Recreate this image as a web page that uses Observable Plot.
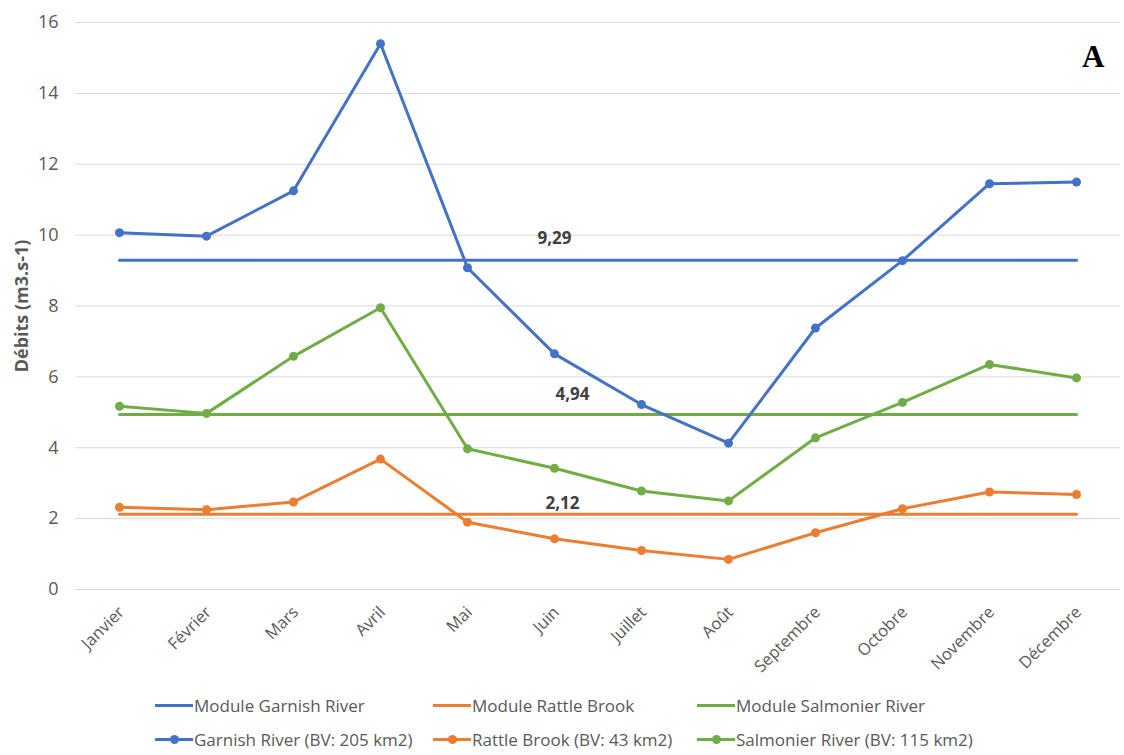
<!DOCTYPE html>
<html>
<head>
<meta charset="utf-8">
<script src="https://cdn.jsdelivr.net/npm/d3@7"></script>
<script src="https://cdn.jsdelivr.net/npm/@observablehq/plot@0.6"></script>
<style>
  html, body { margin: 0; padding: 0; background: #fff; }
  #wrap { position: relative; width: 1124px; height: 755px; font-family: "Open Sans", sans-serif; }
  #legend { position: absolute; left: 0; top: 690px; width: 1124px; height: 65px; font-size: 17px; color: #595959; }
  .item { position: absolute; display: flex; align-items: center; white-space: nowrap; }
  .sw { position: relative; width: 38px; height: 3px; margin-right: 1px; }
  .sw .dot { position: absolute; left: 15px; top: -3px; width: 9px; height: 9px; border-radius: 50%; }
</style>
</head>
<body>
<div id="wrap">
  <div id="chart"></div>
  <div id="legend"></div>
</div>
<script>
const months = ["Janvier","Février","Mars","Avril","Mai","Juin","Juillet","Août","Septembre","Octobre","Novembre","Décembre"];
const garnish   = [10.07, 9.97, 11.25, 15.40, 9.08, 6.65, 5.22, 4.13, 7.38, 9.28, 11.45, 11.50];
const rattle    = [2.32, 2.25, 2.47, 3.68, 1.90, 1.43, 1.10, 0.85, 1.60, 2.28, 2.75, 2.68];
const salmonier = [5.17, 4.97, 6.58, 7.95, 3.97, 3.42, 2.78, 2.50, 4.28, 5.28, 6.35, 5.97];
const moduleGarnish = 9.29;
const moduleRattle = 2.12;
const moduleSalmonier = 4.94;
const seriesNames = ["Garnish River (BV: 205 km2)", "Rattle Brook (BV: 43 km2)", "Salmonier River (BV: 115 km2)"];
const moduleNames = ["Module Garnish River", "Module Rattle Brook", "Module Salmonier River"];
const colors = ["#4472C4", "#ED7D31", "#70AD47"];
const yTicks = [0, 2, 4, 6, 8, 10, 12, 14, 16];

const series = [garnish, rattle, salmonier];
const modules = [moduleGarnish, moduleRattle, moduleSalmonier];

const pts = [];
series.forEach((vals, s) => vals.forEach((v, i) => pts.push({month: months[i], value: v, serie: seriesNames[s]})));
const mods = [];
modules.forEach((m, s) => months.forEach(mo => mods.push({month: mo, value: m, serie: moduleNames[s]})));
const fmt = v => v.toFixed(2).replace(".", ",");
const labelAt = months[5];

const chart = Plot.plot({
  width: 1124,
  height: 688,
  marginLeft: 75,
  marginRight: 4,
  marginTop: 22,
  marginBottom: 99,
  style: {fontFamily: "Open Sans, sans-serif", fontSize: "16px", color: "#595959", background: "#fff"},
  x: {type: "point", domain: months, padding: 0.5, label: null},
  y: {domain: [0, 16], ticks: yTicks, label: null},
  color: {domain: [...moduleNames, ...seriesNames], range: [...colors, ...colors]},
  marks: [
    Plot.gridY(yTicks, {stroke: "#d9d9d9", strokeOpacity: 1, strokeWidth: 1}),
    Plot.axisY({ticks: yTicks, tickSize: 0, tickPadding: 17, fontSize: "18px", fill: "#595959", label: null}),
    Plot.axisX({tickSize: 0, tickPadding: 20, dx: 2, tickRotate: -45, fontSize: "16.5px", fill: "#595959", label: null}),
    Plot.line(mods, {x: "month", y: "value", z: "serie", stroke: "serie", strokeWidth: 3}),
    Plot.line(pts, {x: "month", y: "value", z: "serie", stroke: "serie", strokeWidth: 3}),
    Plot.dot(pts, {x: "month", y: "value", fill: "serie", r: 4.5}),
    Plot.text([moduleGarnish], {x: () => labelAt, y: d => d, text: fmt, dy: -22, dx: 0, fontWeight: "bold", fontSize: "17px", fill: "#404040"}),
    Plot.text([moduleSalmonier], {x: () => labelAt, y: d => d, text: fmt, dy: -20, dx: 18, fontWeight: "bold", fontSize: "17px", fill: "#404040"}),
    Plot.text([moduleRattle], {x: () => labelAt, y: d => d, text: fmt, dy: -11, dx: 8, fontWeight: "bold", fontSize: "17px", fill: "#404040"}),
    Plot.text(["A"], {frameAnchor: "top-right", text: d => d, dx: -16, dy: 22, fontFamily: "Liberation Serif, serif", fontWeight: "bold", fontSize: "31px", fill: "#000"}),
    Plot.text(["Débits (m3.s-1)"], {frameAnchor: "left", textAnchor: "middle", text: d => d, rotate: -90, dx: -53, fontWeight: "bold", fontSize: "18px", fill: "#595959"})
  ]
});
document.getElementById("chart").appendChild(chart);

const legend = document.getElementById("legend");
const lefts = [155, 433, 697];
[moduleNames, seriesNames].forEach((names, row) => {
  names.forEach((n, i) => {
    const it = document.createElement("div");
    it.className = "item";
    it.style.left = lefts[i] + "px";
    it.style.top = (row === 0 ? 4 : 38) + "px";
    const sw = document.createElement("div");
    sw.className = "sw";
    sw.style.background = colors[i];
    if (row === 1) {
      const d = document.createElement("div");
      d.className = "dot";
      d.style.background = colors[i];
      sw.appendChild(d);
    }
    it.appendChild(sw);
    const t = document.createElement("span");
    t.textContent = n;
    it.appendChild(t);
    legend.appendChild(it);
  });
});
</script>
</body>
</html>
